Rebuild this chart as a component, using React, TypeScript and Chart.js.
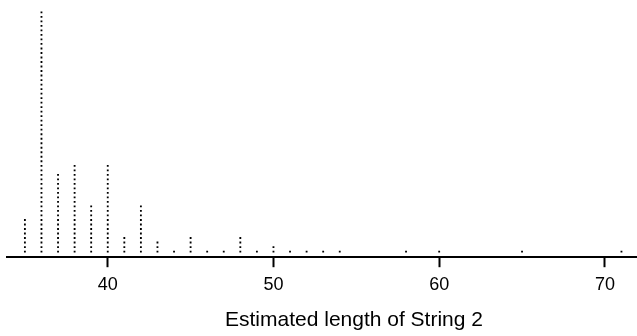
import React, { useEffect, useRef } from "react";
import { Chart, registerables } from "chart.js";

Chart.register(...registerables);

// Estimated length values and how many students gave each
const lengths = [35, 36, 37, 38, 39, 40, 41, 42, 43, 44, 45, 46, 47, 48, 49, 50, 51, 52, 53, 54, 58, 60, 65, 71];
const counts = [8, 54, 18, 20, 11, 20, 4, 11, 3, 1, 4, 1, 1, 4, 1, 2, 1, 1, 1, 1, 1, 1, 1, 1];
const tickValues = [40, 50, 60, 70];
const axisTitle = "Estimated length of String 2";

export default function App() {
  const ref = useRef<HTMLCanvasElement | null>(null);

  useEffect(() => {
    if (!ref.current) return;
    const points: { x: number; y: number }[] = [];
    lengths.forEach((v, i) => {
      for (let k = 0; k < counts[i]; k++) points.push({ x: v, y: k });
    });

    const chart = new Chart(ref.current, {
      type: "scatter",
      data: {
        datasets: [
          {
            data: points,
            pointStyle: "rect",
            pointRadius: 1.3,
            pointBorderWidth: 0,
            backgroundColor: "#000",
            borderColor: "#000",
          },
        ],
      },
      options: {
        animation: false,
        responsive: false,
        maintainAspectRatio: false,
        layout: { padding: { left: 7, right: 0, top: 0, bottom: 3 } },
        plugins: { legend: { display: false }, tooltip: { enabled: false } },
        scales: {
          x: {
            type: "linear",
            min: 33.92,
            max: 75.8,
            afterBuildTicks: (axis: any) => {
              axis.ticks = tickValues.map((v) => ({ value: v }));
            },
            grid: {
              display: true,
              drawOnChartArea: false,
              drawTicks: true,
              tickLength: 10,
              tickWidth: 2,
              tickColor: "#000",
            },
            border: { display: true, color: "#000", width: 2 },
            ticks: {
              color: "#000",
              padding: 7,
              maxRotation: 0,
              font: { family: "Liberation Sans, Arial, sans-serif", size: 18 },
              callback: (v: any) => String(v),
            },
            title: {
              display: true,
              text: axisTitle,
              color: "#000",
              font: { family: "Liberation Sans, Arial, sans-serif", size: 21 },
              padding: { top: 5, bottom: 0 },
            },
          },
          y: {
            display: false,
            min: -1.25,
            max: 54.85,
          },
        },
      },
    });
    return () => chart.destroy();
  }, []);

  return (
    <div style={{ position: "fixed", left: 0, top: 0, width: 637, height: 336, overflow: "hidden", background: "#fff" }}>
      <canvas ref={ref} width={705} height={336} style={{ display: "block" }} />
    </div>
  );
}
